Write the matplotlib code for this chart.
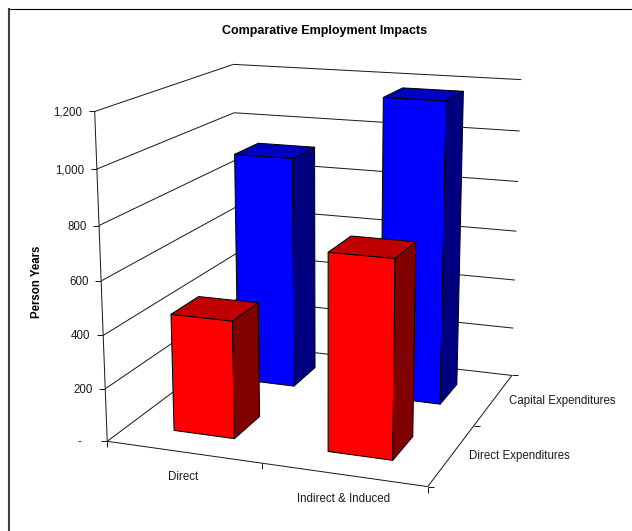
import numpy as np
import matplotlib
matplotlib.use('Agg')
import matplotlib.pyplot as plt
from matplotlib.patches import Polygon

plt.rcParams['font.family'] = ['Liberation Sans', 'DejaVu Sans']

title = 'Comparative Employment Impacts'
ylabel = 'Person Years'
categories = ['Direct', 'Indirect & Induced']
series_names = ['Direct Expenditures', 'Capital Expenditures']
direct_expenditures = [445, 730]
capital_expenditures = [917, 1172]
z_ticks = [0, 200, 400, 600, 800, 1000, 1200]
z_labels = ['-', '200', '400', '600', '800', '1,000', '1,200']

# Perspective camera of the 3-D chart box: (category, series, value/600, 1) -> pixel
CAMERA = np.array([
    [1.4553975e+02, 8.7710955e+01, -8.8316530e+00, 1.0722551e+02],
    [5.9194607e+00, -1.6178181e+01, -1.6792377e+02, 4.4130202e+02],
    [-3.4401057e-02, 9.4806831e-02, -2.7013855e-02, 1.0000000e+00],
])
BAR_LO, BAR_HI = 0.3, 0.7
EDGE = '#000000'
LW = 0.72
FS = 8.3


def proj(x, y, z):
    h = CAMERA @ np.array([x, y, z / 600.0, 1.0])
    return h[0] / h[2], h[1] / h[2]


fig = plt.figure(figsize=(6.32, 5.31), dpi=100, facecolor='white')
ax = fig.add_axes([0, 0, 1, 1])
ax.set_xlim(0, 632)
ax.set_ylim(531, 0)
ax.axis('off')


def line(a, b, color='#1a1a1a', lw=LW):
    ax.plot([a[0], b[0]], [a[1], b[1]], color=color, lw=lw,
            solid_capstyle='butt', zorder=1)


# chart frame (only top and left sides are visible)
line((8, 8.5), (632, 8.5), color='black', lw=0.8)
line((9, 8), (9, 531), color='#404040', lw=1.5)

# walls, floor, axis
for z in z_ticks:
    line(proj(0, 0, z), proj(0, 2, z))
    line(proj(0, 2, z), proj(2, 2, z))
line(proj(0, 0, 0), proj(0, 0, 1200))
line(proj(0, 0, 0), proj(2, 0, 0))
line(proj(2, 0, 0), proj(2, 2, 0))

# tick marks
for z in z_ticks:
    u, v = proj(0, 0, z)
    line((u - 6, v), (u, v))
for i in range(3):
    u, v = proj(i, 0, 0)
    line((u, v), (u, v + 6))
    u, v = proj(2, i, 0)
    line((u, v), (u + 6, v))


def bar(ix, iy, value, front, top, side):
    x0, x1 = ix + BAR_LO, ix + BAR_HI
    y0, y1 = iy + BAR_LO, iy + BAR_HI
    faces = [
        ([(x0, y0, 0), (x1, y0, 0), (x1, y0, value), (x0, y0, value)], front),
        ([(x0, y0, value), (x1, y0, value), (x1, y1, value), (x0, y1, value)], top),
        ([(x1, y0, 0), (x1, y1, 0), (x1, y1, value), (x1, y0, value)], side),
    ]
    for corners, colour in faces:
        ax.add_patch(Polygon([proj(*c) for c in corners], closed=True,
                             facecolor=colour, edgecolor=EDGE, lw=LW,
                             joinstyle='round', zorder=2))


# back row first, then front row
for i, val in enumerate(capital_expenditures):
    bar(i, 1, val, '#0000FF', '#0000C0', '#000080')
for i, val in enumerate(direct_expenditures):
    bar(i, 0, val, '#FF0000', '#C00000', '#800000')

# text
tc = '#1a1a1a'
ax.text(324.5, 31, title, ha='center', va='center', fontsize=9,
        fontweight='bold', color='black')
ax.text(36.5, 282, ylabel, ha='center', va='center', rotation=90, fontsize=FS,
        fontweight='bold', color='black')
for z, lab in zip(z_ticks, z_labels):
    u, v = proj(0, 0, z)
    shift = 26 if lab == '-' else 12.5
    ax.text(u - shift, v + 1, lab, ha='right', va='center', fontsize=FS, color=tc)
ax.text(183, 477, categories[0], ha='center', va='center', fontsize=FS, color=tc)
ax.text(344, 499, categories[1], ha='center', va='center', fontsize=FS, color=tc)
ax.text(469, 456, series_names[0], ha='left', va='center', fontsize=FS, color=tc)
ax.text(509, 401, series_names[1], ha='left', va='center', fontsize=FS, color=tc)

fig.savefig('out.png', dpi=100, facecolor='white')
